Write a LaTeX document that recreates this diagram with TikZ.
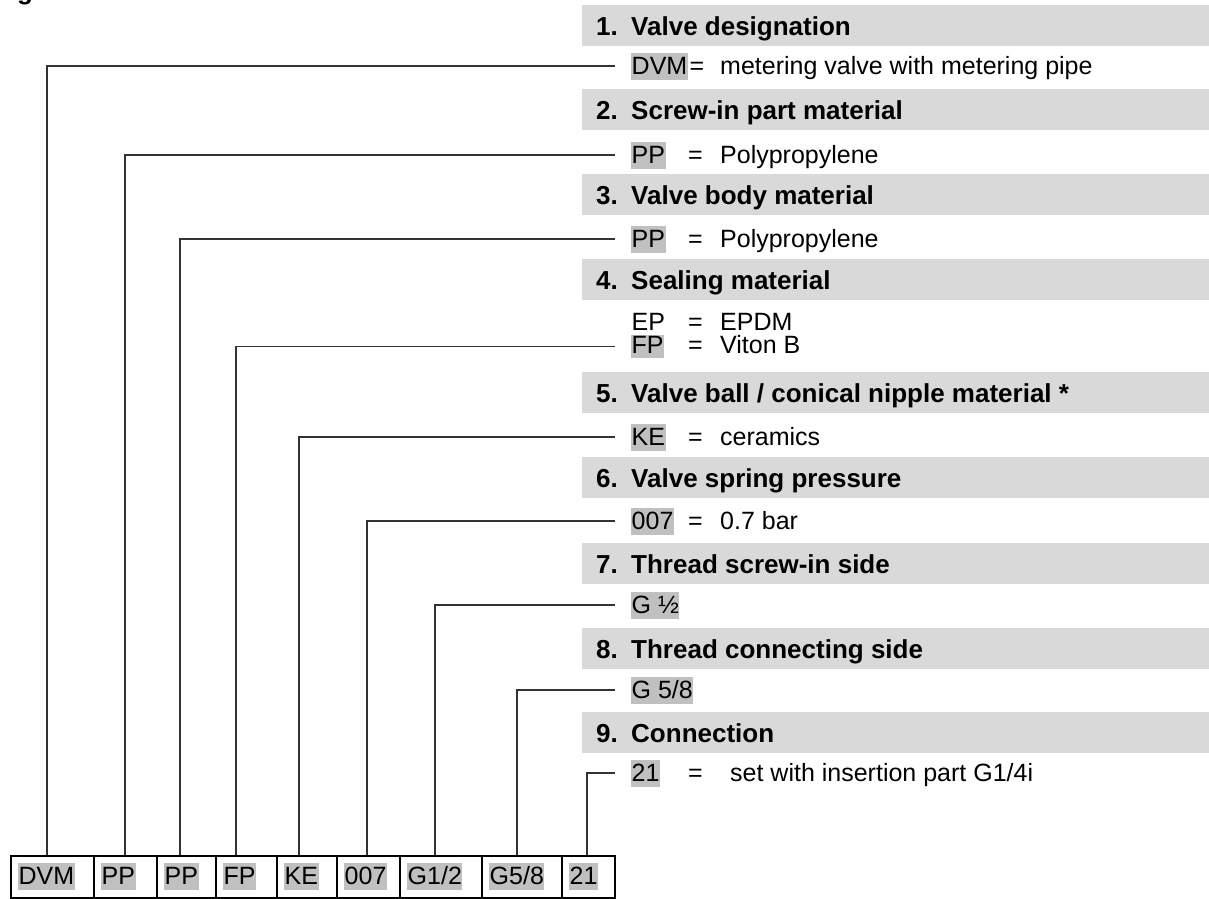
\documentclass[tikz,border=0pt]{standalone}
\usepackage{fontspec}
\setmainfont{Liberation Sans}
\definecolor{barcol}{HTML}{D9D9D9}
\definecolor{codecol}{HTML}{C0C0C0}
\definecolor{linecol}{HTML}{333333}
\begin{document}
\begin{tikzpicture}[x=1pt,y=-1pt,
  bar/.style={fill=barcol,draw=none,minimum height=41pt,minimum width=628pt,anchor=north west,inner sep=0pt},
  hd/.style={font=\fontsize{26}{30}\selectfont\bfseries,anchor=base west,inner sep=0pt},
  code/.style={fill=codecol,inner xsep=0.5pt,inner ysep=0pt,text height=22pt,text depth=5pt,anchor=west,font=\fontsize{25}{29}\selectfont},
  txt/.style={inner sep=0pt,anchor=base west,font=\fontsize{25}{29}\selectfont},
  bx/.style={draw=black,line width=2pt,minimum height=42pt,anchor=north west,inner sep=0pt},
  conn/.style={draw=linecol,line width=1.1pt}]
\useasboundingbox (0,0) rectangle (1209,898);

% cut-off heading fragment at the top left
\node[hd] (frag) at (17,-1) {g};

% heading bars
\foreach \i/\y/\t in {1/5/{Valve designation},2/89/{Screw-in part material},3/174/{Valve body material},4/259/{Sealing material},5/372/{Valve ball / conical nipple material *},6/457/{Valve spring pressure},7/543/{Thread screw-in side},8/628/{Thread connecting side},9/712/{Connection}}{
  \node[bar] (h\i) at (582,\y) {};
  \node[hd] (hn\i) at (596,\y+30) {\i.};
  \node[hd] (ht\i) at (631,\y+30) {\t};
}

% code lines
\node[code] (c1) at (631,66) {DVM};
\node[txt] (e1) at ([xshift=1.5pt]c1.base east) {=};
\node[txt] (d1) at (c1.base -| 720,0) {metering valve with metering pipe};

\node[code] (c2) at (631,155) {PP};
\node[txt] (e2) at (c2.base -| 688,0) {=};
\node[txt] (d2) at (c2.base -| 720,0) {Polypropylene};

\node[code] (c3) at (631,239) {PP};
\node[txt] (e3) at (c3.base -| 688,0) {=};
\node[txt] (d3) at (c3.base -| 720,0) {Polypropylene};

\node[txt] (c4a) at (631.5,330) {EP};
\node[txt] (e4a) at (c4a.base -| 688,0) {=};
\node[txt] (d4a) at (c4a.base -| 720,0) {EPDM};
\node[code,text height=18pt] (c4) at (631,346.5) {FP};
\node[txt] (e4) at (c4.base -| 688,0) {=};
\node[txt] (d4) at (c4.base -| 720,0) {Viton B};

\node[code] (c5) at (631,437) {KE};
\node[txt] (e5) at (c5.base -| 688,0) {=};
\node[txt] (d5) at (c5.base -| 720,0) {ceramics};

\node[code] (c6) at (631,521) {007};
\node[txt] (e6) at (c6.base -| 688,0) {=};
\node[txt] (d6) at (c6.base -| 720,0) {0.7 bar};

\node[code] (c7) at (631,605) {G ½};

\node[code] (c8) at (631,690) {G 5/8};

\node[code] (c9) at (631,773) {21};
\node[txt] (e9) at (c9.base -| 688,0) {=};
\node[txt] (d9) at (c9.base -| 730,0) {set with insertion part G1/4i};

% bottom boxes
\foreach \i/\a/\b/\t in {1/10/93/{DVM},2/93/156/{PP},3/156/215/{PP},4/215/276/{FP},5/276/336/{KE},6/336/399/{007},7/399/481/{G1/2},8/481/561/{G5/8},9/561/614/{21}}{
  \node[bx,minimum width=\b pt-\a pt] (b\i) at (\a,855) {};
  \node[code] (bt\i) at (\a+8,876) {\t};
}

% connector columns
\foreach \i/\x in {1/47,2/125,3/180,4/236,5/299,6/367,7/435,8/517,9/587}{
  \coordinate (k\i) at (\x,855);
  \draw[conn] ([xshift=-16pt]c\i.west) -| (b\i.north -| k\i);
}
\end{tikzpicture}
\end{document}
